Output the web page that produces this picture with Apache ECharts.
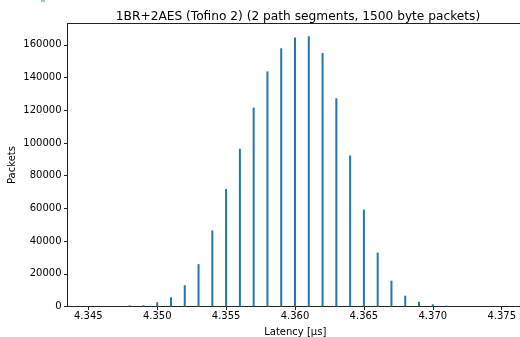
<!DOCTYPE html>
<html>
<head>
<meta charset="utf-8">
<script src="https://cdn.jsdelivr.net/npm/echarts@6/dist/echarts.min.js"></script>
<style>
  html, body { margin: 0; padding: 0; background: #fff; }
  #chart { width: 520px; height: 337px; }
</style>
</head>
<body>
<div id="chart"></div>
<script>
// latency bins (µs) and packet counts
const latency = [4.348, 4.349, 4.350, 4.351, 4.352, 4.353, 4.354, 4.355, 4.356, 4.357, 4.358, 4.359,
  4.360, 4.361, 4.362, 4.363, 4.364, 4.365, 4.366, 4.367, 4.368, 4.369, 4.370, 4.371];
const packets = [700, 800, 2600, 5600, 13000, 25900, 46500, 71900, 96400, 121600, 143700, 157800,
  164500, 165200, 154900, 127300, 92300, 59200, 33000, 15800, 6600, 2900, 1350, 500];

// tick labels
const xTicks = [4.345, 4.350, 4.355, 4.360, 4.365, 4.370, 4.375];
const yTicks = [0, 20000, 40000, 60000, 80000, 100000, 120000, 140000, 160000];

const FONT = "DejaVu Sans";
const chart = echarts.init(document.getElementById("chart"), null, { renderer: "canvas" });

chart.setOption({
  animation: false,
  title: {
    text: "1BR+2AES (Tofino 2) (2 path segments, 1500 byte packets)",
    left: 293, top: 6, textAlign: "center",
    textStyle: { fontFamily: FONT, fontSize: 12.2, fontWeight: "normal", color: "#000" },
  },
  // stray blue mark at the top-left corner of the original
  graphic: [{ type: "rect", shape: { x: 41, y: 0, width: 4, height: 2 }, style: { fill: "#8ec3ea" } }],
  // right spine falls just outside the picture
  grid: {
    left: 67.5, top: 23.5, right: -3, bottom: 30.5,
    outerBoundsMode: "none",
    show: true, borderColor: "#222", borderWidth: 1,
  },
  xAxis: {
    type: "value",
    min: 4.3434906, max: 4.3765458,
    name: "Latency [µs]", nameLocation: "middle", nameGap: 20.5, nameMoveOverlap: false,
    nameTextStyle: { fontFamily: FONT, fontSize: 10, color: "#000" },
    axisLine: { show: true, onZero: false, lineStyle: { color: "#222", width: 1 } },
    axisTick: { show: true, length: 3.5, lineStyle: { color: "#222" }, customValues: xTicks },
    axisLabel: {
      fontFamily: FONT, fontSize: 10, color: "#000", margin: 5,
      customValues: xTicks, formatter: (v) => v.toFixed(3),
    },
    splitLine: { show: false },
  },
  yAxis: {
    type: "value",
    min: 0, max: 173000,
    name: "Packets", nameLocation: "middle", nameGap: 50, nameRotate: 90, nameMoveOverlap: false,
    nameTextStyle: { fontFamily: FONT, fontSize: 10, color: "#000" },
    axisLine: { show: true, lineStyle: { color: "#222", width: 1 } },
    axisTick: { show: true, length: 3.5, lineStyle: { color: "#222" }, customValues: yTicks },
    axisLabel: {
      fontFamily: FONT, fontSize: 10, color: "#000", margin: 6,
      customValues: yTicks, formatter: (v) => String(v),
    },
    splitLine: { show: false },
  },
  series: [{
    type: "bar",
    barWidth: 2,
    itemStyle: { color: "#1f77b4" },
    data: latency.map((x, i) => [x, packets[i]]),
  }],
});
</script>
</body>
</html>
